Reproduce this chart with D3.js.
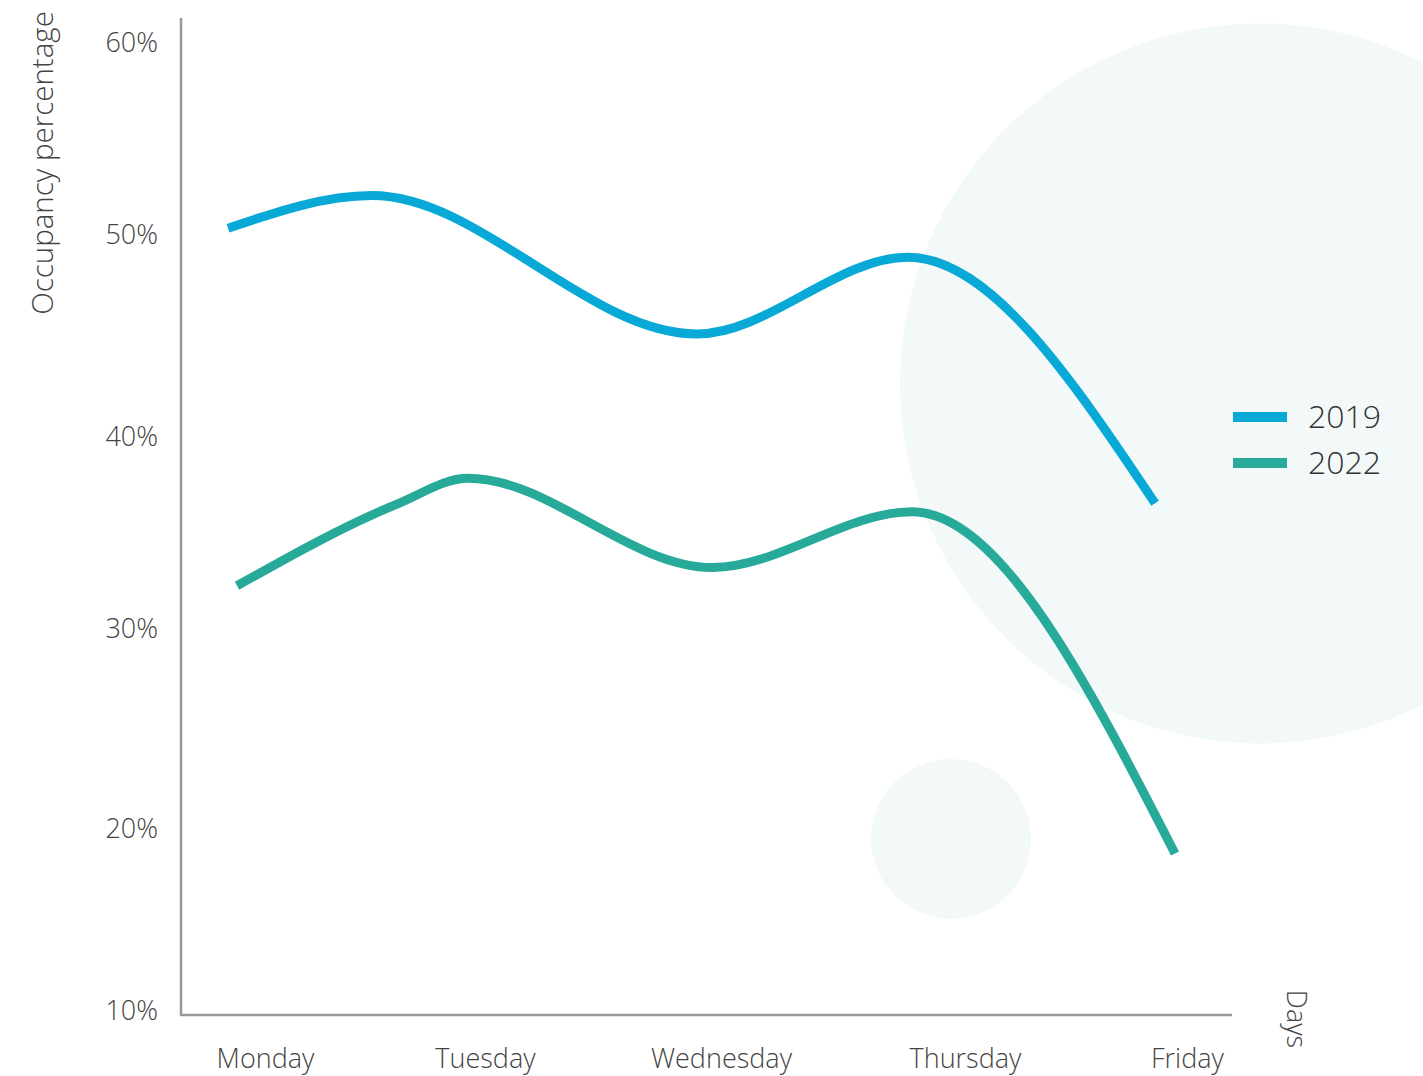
<!DOCTYPE html>
<html>
<head>
<meta charset="utf-8">
<script src="https://cdn.jsdelivr.net/npm/d3@7/dist/d3.min.js"></script>
<style>
  html, body { margin: 0; padding: 0; background: #ffffff; }
  svg { display: block; font-family: "Open Sans", "Lato", sans-serif; font-weight: 300; }
</style>
</head>
<body>
<svg id="chart" width="1423" height="1076"></svg>
<script>
// Weekday categories along the x axis
const days = ["Monday", "Tuesday", "Wednesday", "Thursday", "Friday"];
// Percentage ticks on the y axis
const yTicks = [10, 20, 30, 40, 50, 60];
// Series names and colours
const seriesNames = ["2019", "2022"];
const seriesColors = ["#08a9d6", "#27aa99"];
// Curve control points: position in days (0 = Monday) and occupancy %
const days2019 = [-0.168, 0.486, 1.898, 2.766, 3.856];
const values2019 = [50.3, 52.0, 45.05, 48.85, 36.5];
const days2022 = [-0.127, 0.6, 0.923, 1.962, 2.783, 3.946];
const values2022 = [32.2, 36.45, 37.8, 33.15, 36.05, 18.6];
// Soft background discs (centre in days / %, radius in px)
const discs = [
  { day: 4.329, pct: 42.6, r: 360 },
  { day: 2.943, pct: 19.4, r: 80 }
];

const svg = d3.select("#chart");

// Day and percentage scales (tick spacing follows the printed grid)
const x = d3.scaleLinear().domain([0, 1, 2, 3, 4]).range([265, 485, 721, 965, 1187]);
const y = d3.scaleLinear().domain(yTicks).range([1010, 828, 628, 436, 234, 42]);

// Background discs
svg.append("g").selectAll("circle")
  .data(discs).join("circle")
  .attr("cx", d => x(d.day))
  .attr("cy", d => y(d.pct))
  .attr("r", d => d.r)
  .attr("fill", "#f3f9f9");

// Axis lines
const axisColor = "#999999";
svg.append("line")
  .attr("x1", 181).attr("x2", 181)
  .attr("y1", 18).attr("y2", 1016)
  .attr("stroke", axisColor).attr("stroke-width", 2.5);
svg.append("line")
  .attr("x1", 180).attr("x2", 1232)
  .attr("y1", 1015).attr("y2", 1015)
  .attr("stroke", axisColor).attr("stroke-width", 2.5);

const labelFont = "'Open Sans', Lato, sans-serif";
const textColor = "#444444";

// Y tick labels
const yAxis = d3.axisLeft(y).tickValues(yTicks).tickSize(0).tickPadding(0)
  .tickFormat(d => d + "%");
const gy = svg.append("g").attr("transform", "translate(158,0)").call(yAxis);
gy.select(".domain").remove();
gy.selectAll("text")
  .attr("font-family", labelFont).attr("font-weight", 300)
  .attr("font-size", 27).attr("fill", textColor).attr("dy", "0.35em");

// X tick labels
const xAxis = d3.axisBottom(x).tickValues(d3.range(days.length)).tickSize(0).tickPadding(0)
  .tickFormat(i => days[i]);
const gx = svg.append("g").attr("transform", "translate(0,1073)").call(xAxis);
gx.select(".domain").remove();
gx.selectAll("text")
  .attr("font-family", labelFont).attr("font-weight", 300)
  .attr("font-size", 27).attr("fill", textColor).attr("dy", "-0.2em");

// Axis titles
svg.append("text")
  .attr("transform", "translate(53,163) rotate(-90)")
  .attr("text-anchor", "middle")
  .attr("font-size", 29.5).attr("fill", textColor)
  .text("Occupancy percentage");
svg.append("text")
  .attr("transform", "translate(1287,1019) rotate(90)")
  .attr("text-anchor", "middle")
  .attr("font-size", 27).attr("fill", textColor)
  .text("Days");

// Lines
const series = [
  { name: seriesNames[0], color: seriesColors[0], pts: days2019.map((d, i) => [d, values2019[i]]) },
  { name: seriesNames[1], color: seriesColors[1], pts: days2022.map((d, i) => [d, values2022[i]]) }
];
const line = d3.line()
  .x(d => x(d[0])).y(d => y(d[1]))
  .curve(d3.curveMonotoneX);
svg.append("g").selectAll("path")
  .data(series).join("path")
  .attr("d", d => line(d.pts))
  .attr("fill", "none")
  .attr("stroke", d => d.color)
  .attr("stroke-width", 9);

// Legend
const legend = svg.append("g").selectAll("g")
  .data(series).join("g")
  .attr("transform", (d, i) => `translate(1233,${417 + i * 46})`);
legend.append("rect")
  .attr("x", 0).attr("y", -5).attr("width", 54).attr("height", 10)
  .attr("fill", d => d.color);
legend.append("text")
  .attr("x", 75).attr("dy", "0.35em")
  .attr("font-size", 32).attr("fill", "#333333")
  .text(d => d.name);
</script>
</body>
</html>
